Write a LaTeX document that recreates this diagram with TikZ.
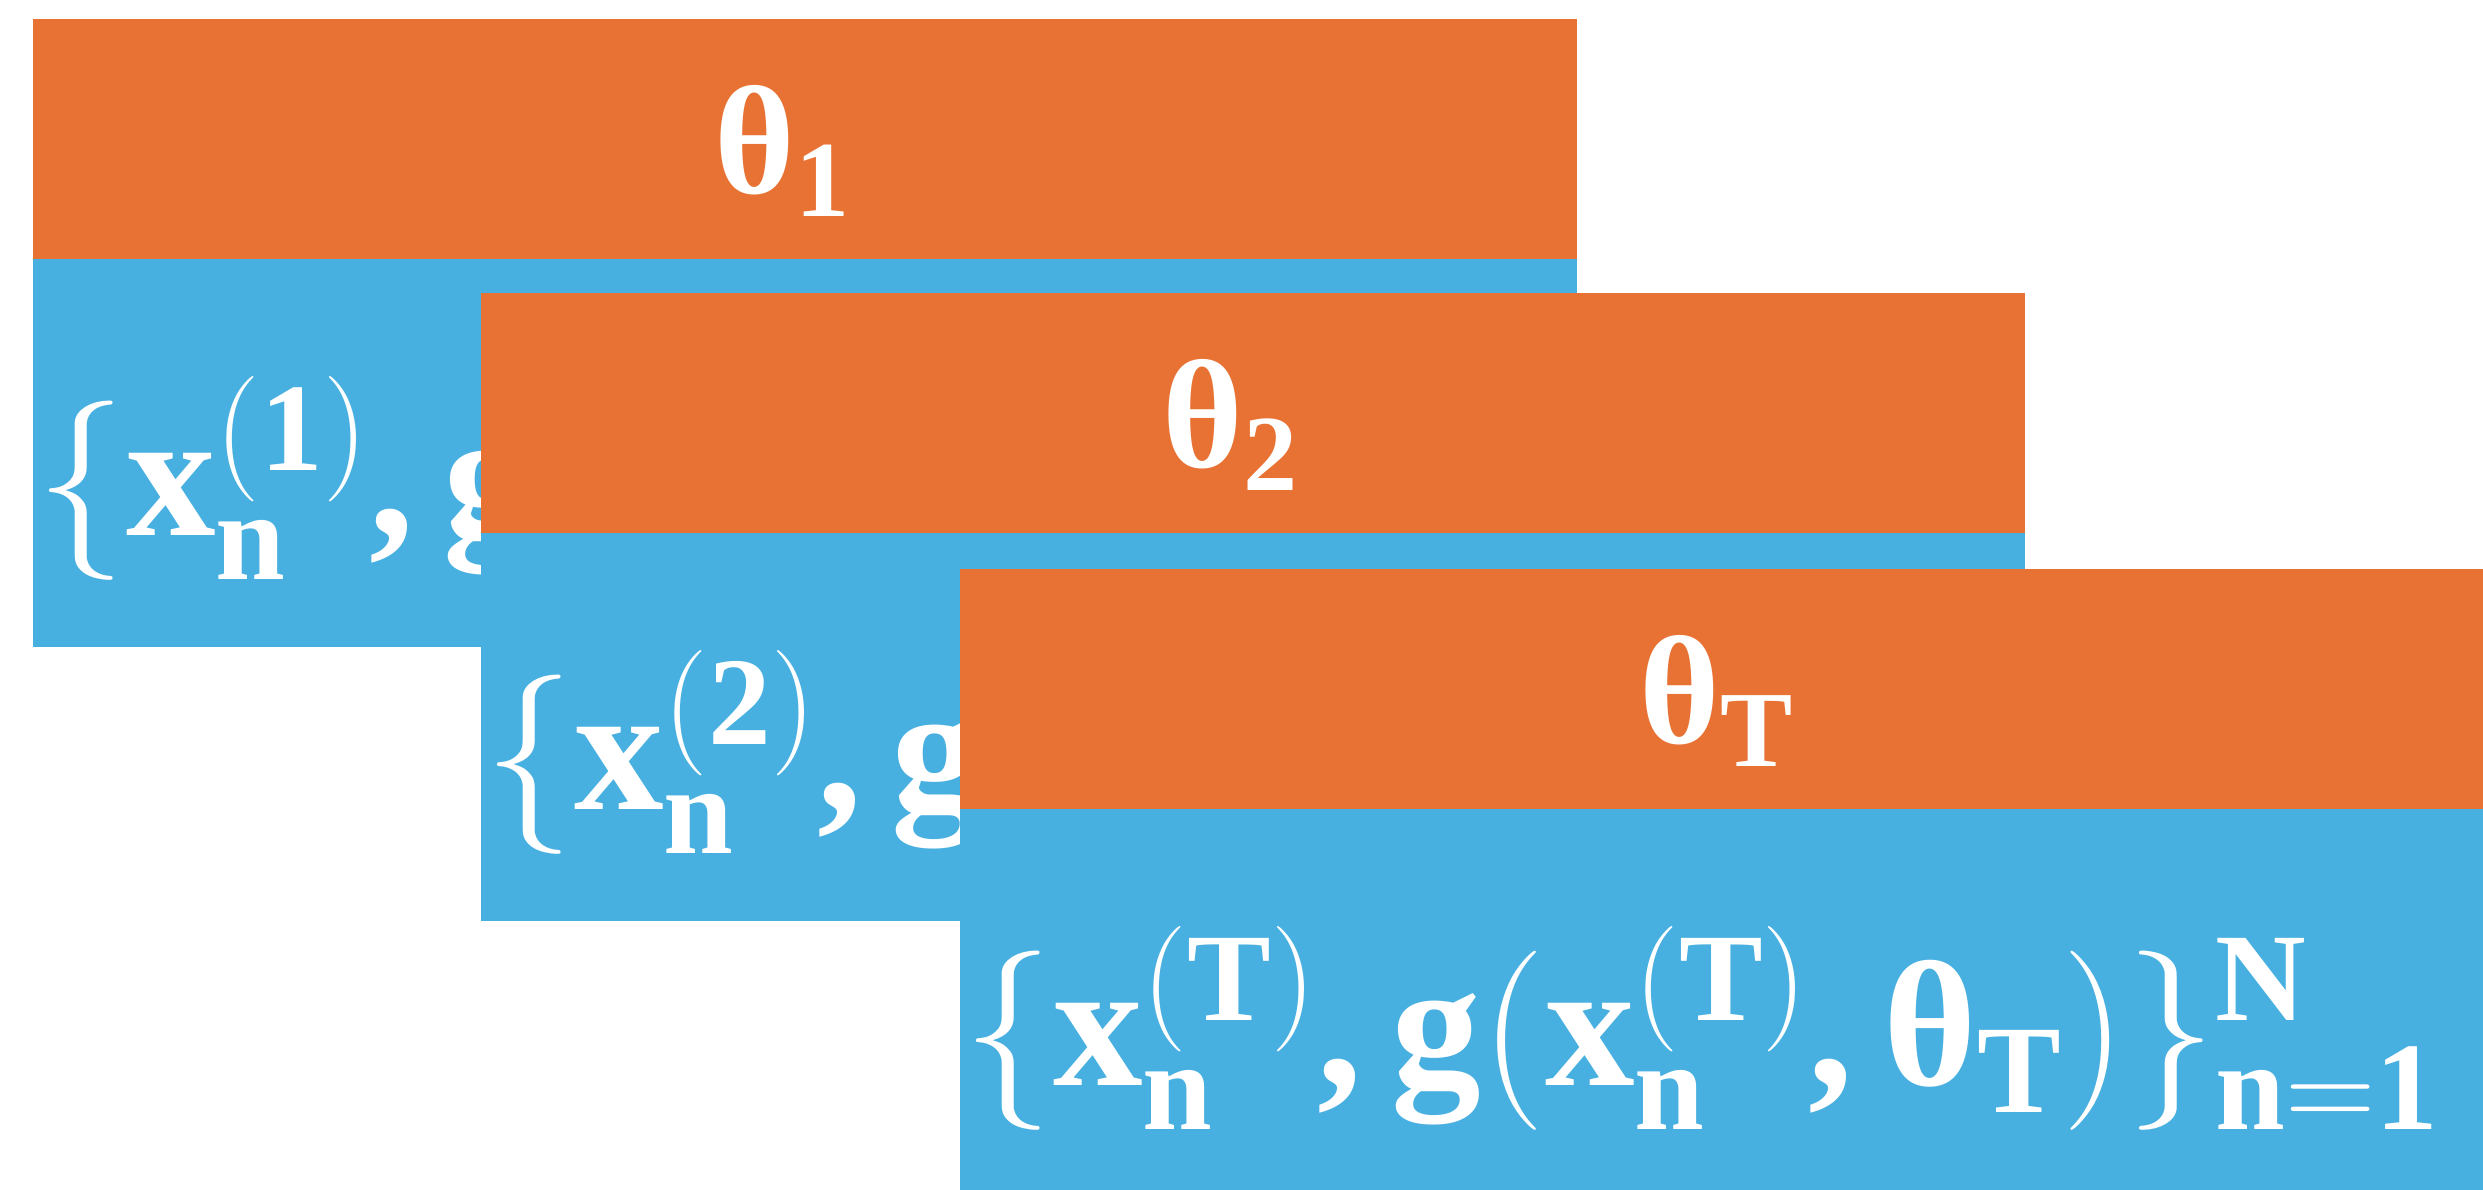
\RequirePackage{fix-cm}
\documentclass[tikz,border=0pt]{standalone}
\usepackage{amsmath}
\usepackage{fontspec}
\setmainfont{Liberation Serif}
\usepackage{tikz}
\usetikzlibrary{positioning}

\definecolor{paramorange}{RGB}{232,114,51}
\definecolor{datablue}{RGB}{72,176,224}

\begin{document}
\begin{tikzpicture}[
  every node/.style={font=\fontsize{51}{60}\selectfont\bfseries, text=white},
  param/.style={
    rectangle, fill=paramorange, draw=paramorange, line width=0.4pt,
    inner sep=0pt, minimum width=15.43cm, minimum height=2.384cm,
    text depth=0pt, anchor=north west,
    font=\fontsize{44}{52}\selectfont\bfseries,
  },
  data/.style={
    rectangle, fill=datablue, draw=datablue, line width=0.4pt,
    inner xsep=0.03cm, inner ysep=0pt,
    text width=15.37cm, minimum height=3.866cm, align=left,
    text height=1.64cm, text depth=0pt,
  },
]
  \useasboundingbox (0,0) rectangle (24.83,-11.89);

  % Task 1
  \node[param] (par1) at (0.33,-0.193) {$\text{θ}_{\mathbf{1}}$\hspace*{0.45cm}};
  \node[data, below=0pt of par1] (data1) {$\{\mathbf{x}_{\mathbf{n}}^{(\mathbf{1})}\mathpunct{\text{,}}\mathbf{g}(\mathbf{x}_{\mathbf{n}}^{(\mathbf{1})}\mathpunct{\text{,}}\text{θ}_{\mathbf{1}})\}_{\mathbf{n}=\mathbf{1}}^{\mathbf{N}}$};

  % Task 2
  \node[param] (par2) at (4.81,-2.933) {$\text{θ}_{\mathbf{2}}$\hspace*{0.45cm}};
  \node[data, below=0pt of par2] (data2) {$\{\mathbf{x}_{\mathbf{n}}^{(\mathbf{2})}\mathpunct{\text{,}}\mathbf{g}(\mathbf{x}_{\mathbf{n}}^{(\mathbf{2})}\mathpunct{\text{,}}\text{θ}_{\mathbf{2}})\}_{\mathbf{n}=\mathbf{1}}^{\mathbf{N}}$};

  % Task T
  \node[param] (parT) at (9.60,-5.693) {$\text{θ}_{\mathbf{T}}$\hspace*{0.3cm}};
  \node[data, below=0pt of parT] (dataT) {$\{\mathbf{x}_{\mathbf{n}}^{(\mathbf{T})}\mathpunct{\text{,}}\mathbf{g}(\mathbf{x}_{\mathbf{n}}^{(\mathbf{T})}\mathpunct{\text{,}}\text{θ}_{\mathbf{T}})\}_{\mathbf{n}=\mathbf{1}}^{\mathbf{N}}$};

\end{tikzpicture}
\end{document}
